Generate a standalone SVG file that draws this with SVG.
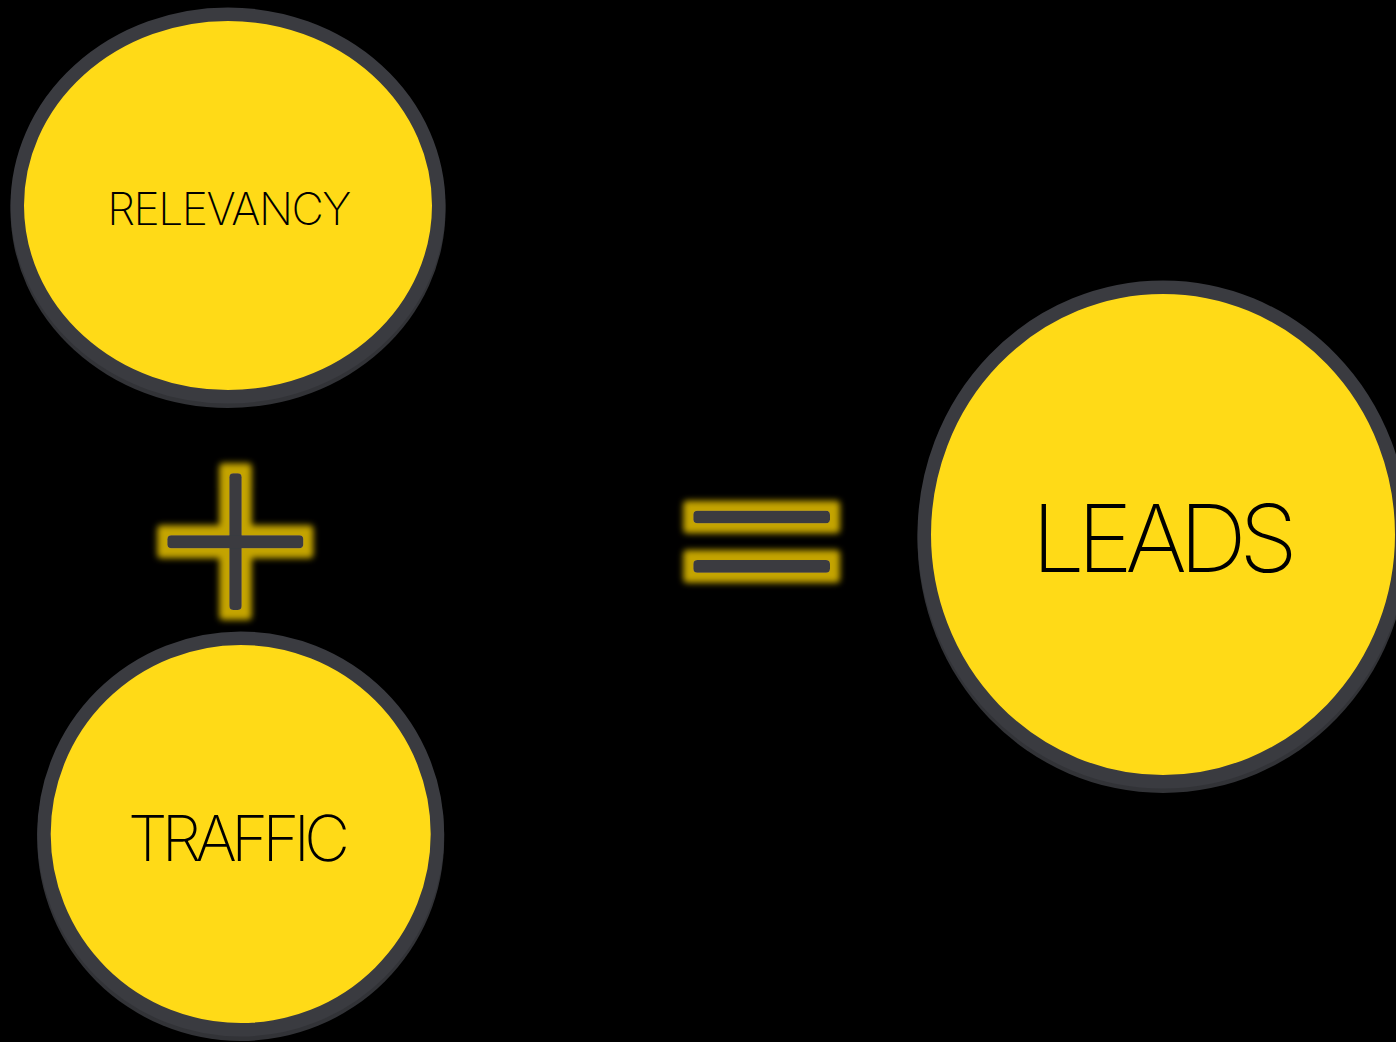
<svg xmlns="http://www.w3.org/2000/svg" width="1396" height="1042" viewBox="0 0 1396 1042">
  <style>
    .ring { fill: #FFDA17; stroke: #3A3B40; stroke-width: 13.5; }
    .shadow { fill: #323337; }
    .label { font-family: Inter, "Liberation Sans", sans-serif; font-weight: 200; fill: #000; }
    .bar { fill: #3A3B40; }
  </style>
  <defs>
    <filter id="glow" x="-40%" y="-40%" width="180%" height="180%">
      <feMorphology in="SourceAlpha" operator="dilate" radius="10" result="d"/>
      <feGaussianBlur in="d" stdDeviation="3" result="b"/>
      <feFlood flood-color="#C4A400"/>
      <feComposite in2="b" operator="in" result="g"/>
      <feMerge>
        <feMergeNode in="g"/>
        <feMergeNode in="SourceGraphic"/>
      </feMerge>
    </filter>
  </defs>
  <rect width="1396" height="1042" fill="#000"/>

  <g id="relevancy">
    <ellipse class="shadow" cx="228" cy="210" rx="217.5" ry="198"/>
    <ellipse class="ring" cx="228" cy="205.5" rx="210.75" ry="191.25"/>
    <text class="label" x="107.3" y="225" font-size="44.5" textLength="244" lengthAdjust="spacing">RELEVANCY</text>
  </g>

  <g id="traffic">
    <ellipse class="shadow" cx="240.7" cy="838.5" rx="203.5" ry="202.5"/>
    <ellipse class="ring" cx="240.7" cy="834" rx="196.75" ry="195.75"/>
    <text class="label" x="128" y="860.7" font-size="63" textLength="222" lengthAdjust="spacing">TRAFFIC</text>
  </g>

  <g id="leads">
    <ellipse class="shadow" cx="1163" cy="539" rx="245.5" ry="254"/>
    <ellipse class="ring" cx="1163" cy="534.5" rx="238.75" ry="247.25"/>
    <text class="label" x="1031.7" y="571.7" font-size="94" font-weight="150" textLength="266" lengthAdjust="spacing">LEADS</text>
  </g>

  <g id="connectors">
    <g id="plus" filter="url(#glow)">
      <rect class="bar" x="229.3" y="473.3" width="12.4" height="136.7" rx="4"/>
      <rect class="bar" x="167.3" y="535.2" width="136" height="13" rx="4"/>
    </g>
    <g id="equals" filter="url(#glow)">
      <rect class="bar" x="693.3" y="510.7" width="136.7" height="12.6" rx="4"/>
      <rect class="bar" x="693.3" y="560" width="136.7" height="12.7" rx="4"/>
    </g>
  </g>
</svg>
